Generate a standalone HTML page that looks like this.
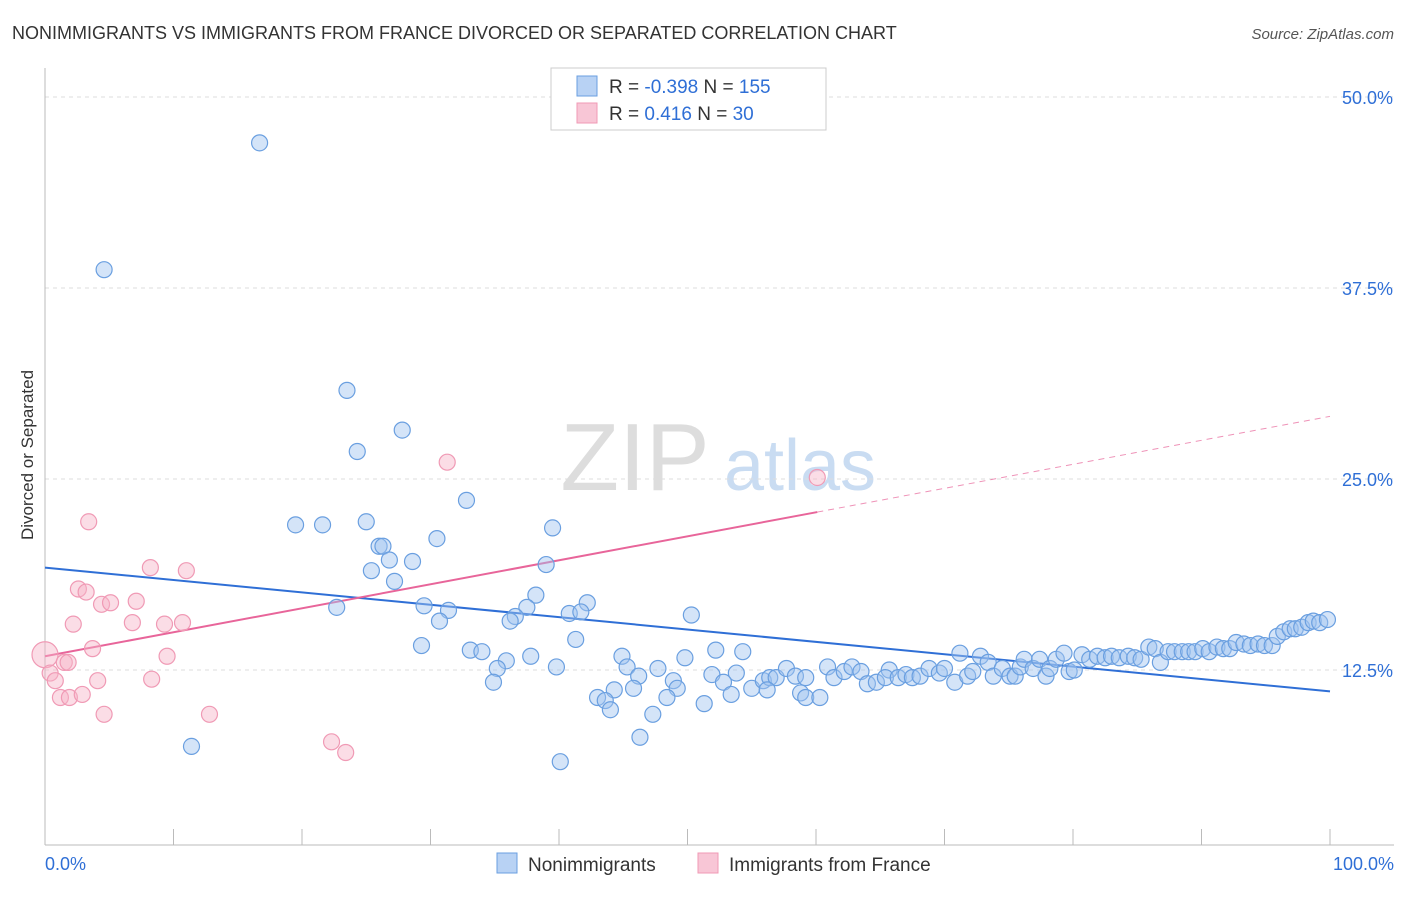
<!DOCTYPE html>
<html><head><meta charset="utf-8"><style>
body{margin:0;background:#fff;font-family:"Liberation Sans",sans-serif;}
svg text{font-family:"Liberation Sans",sans-serif;}
</style></head><body>
<svg id="chart" width="1406" height="892" viewBox="0 0 1406 892">
<text x="12" y="39" font-size="18" fill="#333">NONIMMIGRANTS VS IMMIGRANTS FROM FRANCE DIVORCED OR SEPARATED CORRELATION CHART</text>
<text x="1394" y="39" font-size="15" fill="#555" text-anchor="end" font-style="italic">Source: ZipAtlas.com</text>
<text x="33" y="455" font-size="17" fill="#333" text-anchor="middle" transform="rotate(-90 33 455)">Divorced or Separated</text>
<g><text x="635" y="490" font-size="96" fill="#ddd" text-anchor="middle" font-family="Liberation Serif">ZIP</text><text x="800" y="490" font-size="72" fill="#c9dcf2" text-anchor="middle">atlas</text></g>
<g id="grid"></g><g id="axes"></g><g id="trends"></g><g id="points"></g>
<g>
<rect x="551" y="68" width="275" height="62" fill="#fff" stroke="#ccc"/>
<rect x="577" y="76" width="20" height="20" fill="#b8d2f4" stroke="#6a9fe0"/>
<rect x="577" y="103" width="20" height="20" fill="#f8c6d6" stroke="#f09ab5"/>
<text x="609" y="93" font-size="19" fill="#333">R = <tspan fill="#2f6fd6">-0.398</tspan>   N = <tspan fill="#2f6fd6">155</tspan></text>
<text x="609" y="120" font-size="19" fill="#333">R =   <tspan fill="#2f6fd6">0.416</tspan>   N =  <tspan fill="#2f6fd6"> 30</tspan></text>
</g>
<g>
<rect x="497" y="853" width="20" height="20" fill="#b8d2f4" stroke="#6a9fe0"/>
<text x="528" y="871" font-size="19" fill="#333">Nonimmigrants</text>
<rect x="698" y="853" width="20" height="20" fill="#f8c6d6" stroke="#f09ab5"/>
<text x="729" y="871" font-size="19" fill="#333">Immigrants from France</text>
</g>
<text x="45" y="870" font-size="18" fill="#2f6fd6">0.0%</text>
<text x="1394" y="870" font-size="18" fill="#2f6fd6" text-anchor="end">100.0%</text>
</svg>
<script>
const yTicks=[50,37.5,25,12.5];
const yTickLabels=["50.0%","37.5%","25.0%","12.5%"];
const xTicks=[0,10,20,30,40,50,60,70,80,90,100];
const blueX=[16.7,4.6,23.5,27.8,24.3,32.8,19.5,21.6,25.0,39.5,30.5,26.0,26.3,26.8,28.6,25.4,39.0,27.2,38.2,42.2,37.5,29.5,22.7,31.4,40.8,41.7,36.6,36.2,30.7,50.3,41.3,29.3,33.1,34.0,35.9,37.8,35.2,39.8,34.9,44.9,45.3,49.8,52.2,54.3,47.7,48.9,49.2,46.2,51.9,53.8,52.8,55.0,55.9,56.4,56.9,57.7,58.4,56.2,59.2,44.3,45.8,43.0,43.6,44.0,48.4,51.3,53.4,58.8,59.2,60.3,47.3,46.3,40.1,11.4,60.9,61.4,62.2,62.8,63.5,64.0,64.7,65.7,65.4,66.4,67.0,67.5,68.1,68.8,69.6,70.0,70.8,71.2,71.8,72.2,72.8,73.4,73.8,74.5,75.1,75.5,75.9,76.2,76.9,77.4,77.9,78.2,78.7,79.3,79.7,80.1,80.7,81.3,81.9,82.5,83.0,83.6,84.3,84.8,85.3,85.9,86.4,86.8,87.4,87.9,88.5,89.0,89.5,90.1,90.6,91.2,91.7,92.2,92.7,93.3,93.8,94.4,94.9,95.5,95.9,96.4,96.9,97.3,97.8,98.3,98.7,99.2,99.8];
const blueY=[47.0,38.7,30.8,28.2,26.8,23.6,22.0,22.0,22.2,21.8,21.1,20.6,20.6,19.7,19.6,19.0,19.4,18.3,17.4,16.9,16.6,16.7,16.6,16.4,16.2,16.3,16.0,15.7,15.7,16.1,14.5,14.1,13.8,13.7,13.1,13.4,12.6,12.7,11.7,13.4,12.7,13.3,13.8,13.7,12.6,11.8,11.3,12.1,12.2,12.3,11.7,11.3,11.8,12.0,12.0,12.6,12.1,11.2,12.0,11.2,11.3,10.7,10.5,9.9,10.7,10.3,10.9,11.0,10.7,10.7,9.6,8.1,6.5,7.5,12.7,12.0,12.4,12.7,12.4,11.6,11.7,12.5,12.0,12.0,12.2,12.0,12.1,12.6,12.3,12.6,11.7,13.6,12.1,12.4,13.4,13.0,12.1,12.6,12.1,12.1,12.7,13.2,12.6,13.2,12.1,12.6,13.2,13.6,12.4,12.5,13.5,13.2,13.4,13.3,13.4,13.3,13.4,13.3,13.2,14.0,13.9,13.0,13.7,13.7,13.7,13.7,13.7,13.9,13.7,14.0,13.9,13.9,14.3,14.2,14.1,14.2,14.1,14.1,14.7,15.0,15.2,15.2,15.3,15.6,15.7,15.6,15.8];
const pinkX=[0,0.4,0.8,1.2,1.5,1.8,2.2,2.6,3.2,3.4,3.7,4.1,1.9,2.9,4.4,4.6,5.1,6.8,7.1,8.2,8.3,9.3,9.5,10.7,11.0,12.8,22.3,23.4,31.3,60.1];
const pinkY=[13.5,12.3,11.8,10.7,13.0,13.0,15.5,17.8,17.6,22.2,13.9,11.8,10.7,10.9,16.8,9.6,16.9,15.6,17.0,19.2,11.9,15.5,13.4,15.6,19.0,9.6,7.8,7.1,26.1,25.1];
const blueTrend=[19.2,11.1]; // y at x=0 and x=100
const pinkTrend=[13.4,29.1];
const pinkSolidEnd=60.1;

const X0=45,X1=1330,Y0=861,PY=15.28;
const sx=v=>X0+(X1-X0)*v/100;
const sy=v=>Y0-v*PY;
const NS="http://www.w3.org/2000/svg";
function mk(tag,attrs,parent){const e=document.createElementNS(NS,tag);for(const k in attrs)e.setAttribute(k,attrs[k]);parent.appendChild(e);return e;}
const grid=document.getElementById('grid'),axes=document.getElementById('axes'),trends=document.getElementById('trends'),pts=document.getElementById('points');
yTicks.forEach((t,i)=>{
  const l=mk('line',{x1:45,x2:1394,y1:sy(t),y2:sy(t),stroke:'#ddd','stroke-dasharray':'4 4'},grid);
  
  
  const tx=mk('text',{x:1393,y:sy(t)+7,'font-size':18,fill:'#2f6fd6','text-anchor':'end'},grid);
  tx.textContent=yTickLabels[i];
  
  
});
const ya=mk('line',{x1:45,x2:45,y1:68,y2:845,stroke:'#bbb'},axes);


const xa=mk('line',{x1:45,x2:1394,y1:845,y2:845,stroke:'#bbb'},axes);


xTicks.forEach(t=>{
  const l=mk('line',{x1:sx(t),x2:sx(t),y1:829,y2:845,stroke:'#bbb'},axes);
  
  
});
const bt=mk('line',{x1:sx(0),y1:sy(blueTrend[0]),x2:sx(100),y2:sy(blueTrend[1]),stroke:'#2f6fd6','stroke-width':2},trends);


const pAt=x=>pinkTrend[0]+(pinkTrend[1]-pinkTrend[0])*x/100;
const pt=mk('line',{x1:sx(0),y1:sy(pinkTrend[0]),x2:sx(pinkSolidEnd),y2:sy(pAt(pinkSolidEnd)),stroke:'#e8659a','stroke-width':2},trends);


const pd=mk('line',{x1:sx(pinkSolidEnd),y1:sy(pAt(pinkSolidEnd)),x2:sx(100),y2:sy(pinkTrend[1]),stroke:'#e8659a','stroke-width':1,'stroke-dasharray':'6 5',opacity:0.7},trends);


blueX.forEach((x,i)=>{
  const c=mk('circle',{cx:sx(x),cy:sy(blueY[i]),r:8,fill:'rgba(160,196,240,0.45)',stroke:'#6a9fe0','stroke-width':1.2},pts);
  
  
});
pinkX.forEach((x,i)=>{
  const c=mk('circle',{cx:sx(x),cy:sy(pinkY[i]),r:i===0?13:8,fill:'rgba(246,180,200,0.45)',stroke:'#f09ab5','stroke-width':1.2},pts);
  
  
});
</script>
</body></html>
